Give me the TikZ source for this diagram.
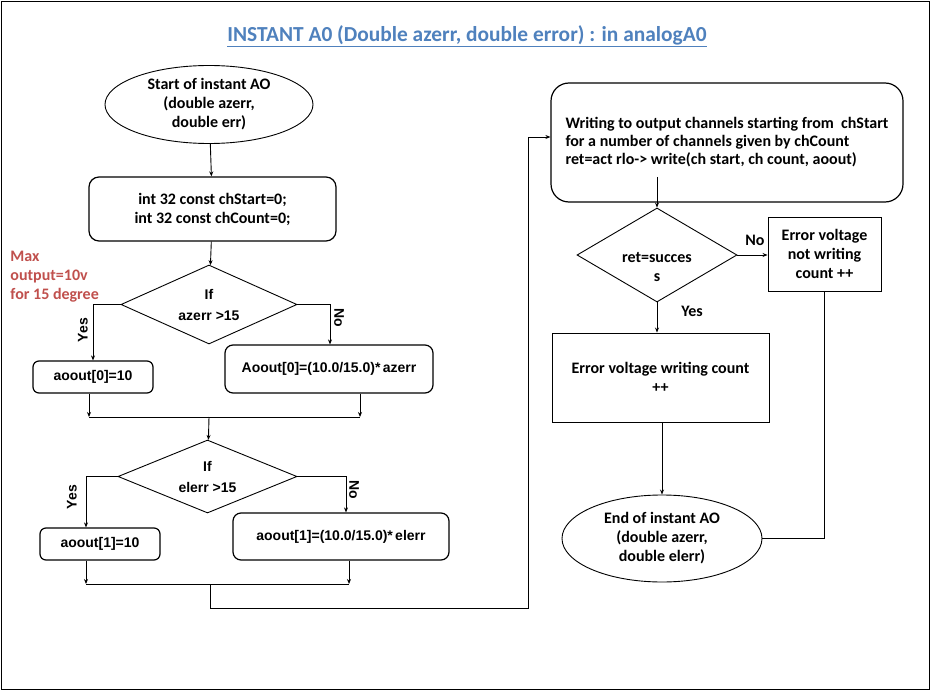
\documentclass[tikz,border=0pt]{standalone}
\usepackage{fontspec}
\setmainfont{Carlito}
\newfontfamily\arialf{Liberation Sans}
\usetikzlibrary{shapes.geometric,arrows.meta}
\definecolor{titleblue}{RGB}{79,129,189}
\definecolor{notered}{RGB}{192,80,77}
\begin{document}
\begin{tikzpicture}[x=1pt,y=-1pt,line width=0.9pt,
  cal/.style={font=\fontsize{16}{19}\selectfont\bfseries},
  ari/.style={font=\arialf\fontsize{14}{21}\selectfont\bfseries},
  arr/.style={-{Stealth[length=5pt,width=4pt]}},
  shapebox/.style={draw,line width=0.9pt,inner sep=0pt,align=center},
  rbox/.style={shapebox,line width=1.2pt,rounded corners=#1},
  rbox/.default=7pt,
  dia/.style={shapebox,diamond,aspect=2.2}
]
\useasboundingbox (0,0) rectangle (930,690);
\draw[line width=0.8pt] (1,1) rectangle (929,689);

\node[font=\fontsize{21.4}{24}\selectfont\bfseries,text=titleblue] (title) at (467,36.5)
  {\underline{INSTANT A0 (Double azerr, double error) : in analogA0}};

\node[text=notered,align=left,anchor=north west,inner sep=0pt,font=\fontsize{16}{19}\selectfont\bfseries] (note) at (10,251)
  {Max\\output=10v\\for 15 degree};

% left column
\node[shapebox,ellipse,minimum width=208pt,minimum height=78pt,cal] (start) at (209,104.5)
  {Start of instant AO\\(double azerr,\\double err)};
\node[rbox=10pt,minimum width=247pt,minimum height=64pt,cal] (b1) at (212.5,209)
  {int 32 const chStart=0;\\int 32 const chCount=0;};
\node[dia,minimum width=176pt,minimum height=79pt,ari] (d1) at (209,304.5)
  {If\\azerr >15};
\node[rbox=6pt,minimum width=120pt,minimum height=32pt,ari] (y1) at (93,377)
  {aoout[0]=10};
\node[rbox=8pt,minimum width=208pt,minimum height=48pt,ari] (n1) at (329,369)
  {Aoout[0]=(10.0/15.0)*\,azerr};
\node[dia,minimum width=179pt,minimum height=73pt,ari] (d2) at (207.5,476.5)
  {If\\elerr >15};
\node[rbox=6pt,minimum width=120pt,minimum height=32pt,ari] (y2) at (100,544)
  {aoout[1]=10};
\node[rbox=8pt,minimum width=216pt,minimum height=47pt,ari] (n2) at (341,536.5)
  {aoout[1]=(10.0/15.0)*\,elerr};

\node[ari,rotate=90] (yes1) at (83,330) {Yes};
\node[ari,rotate=-90] (no1) at (339,318) {No};
\node[ari,rotate=90] (yes2) at (72,497) {Yes};
\node[ari,rotate=-90] (no2) at (354,490) {No};

\coordinate (m1L) at (89,417);
\coordinate (m1R) at (360,417);
\coordinate (m1) at (209,417);
\coordinate (yx1) at (93,0);
\coordinate (nx1) at (330,0);
\coordinate (m2L) at (86,584);
\coordinate (m2R) at (349,584);
\coordinate (m2) at (210,584);
\coordinate (yx2) at (86,0);
\coordinate (nx2) at (346,0);
\coordinate (lp) at (528,137);

\draw[arr] (start) -- (b1);
\draw[arr] (b1) -- (d1);
\draw[arr] (d1.west) -| (y1.north -| yx1);
\draw[arr] (d1.east) -| (n1.north -| nx1);
\draw[arr] (y1.south -| m1L) -- (m1L);
\draw[arr] (n1.south -| m1R) -- (m1R);
\draw (m1L) -- (m1R);
\draw[arr] (m1) -- (d2);
\draw[arr] (d2.west) -| (y2.north -| yx2);
\draw[arr] (d2.east) -| (n2.north -| nx2);
\draw[arr] (y2.south -| m2L) -- (m2L);
\draw[arr] (n2.south -| m2R) -- (m2R);
\draw (m2L) -- (m2R);

% right column
\node[rbox=18pt,minimum width=352pt,minimum height=119pt,align=left,
  font=\fontsize{16}{18}\selectfont\bfseries] (bb) at (727,142.5)
  {Writing to output channels starting from\ \ chStart\\for a number of channels given by chCount\\ret=act rlo-> write(ch start, ch count, aoout)};
\node[dia,minimum width=160pt,minimum height=94pt] (d3) at (657,255) {};
\node[align=center,font=\fontsize{16}{19}\selectfont\bfseries] (d3t) at (657,267) {ret=succes\\s};
\node[shapebox,minimum width=113pt,minimum height=74pt,cal] (e1) at (824.5,254)
  {Error voltage\\not writing\\count ++};
\node[shapebox,minimum width=217pt,minimum height=89pt,cal] (e2) at (660.5,377.5)
  {Error voltage writing count\\++};
\node[shapebox,ellipse,minimum width=200pt,minimum height=87pt,cal] (endn) at (662,538.5)
  {End of instant AO\\(double azerr,\\double elerr)};
\node[cal] (no3) at (755,240) {No};
\node[cal] (yes3) at (692,311) {Yes};

\coordinate (bbo) at (657,177);
\draw[arr] (m2) -- ++(0,24) -| (lp) -- (bb.west |- lp);
\draw[arr] (bbo) -- (d3.north);
\draw[arr] (d3.east) -- (e1.west |- d3.east);
\draw[arr] (d3.south) -- (d3.south |- e2.north);
\draw[arr] (e2.south -| endn.north) -- (endn.north);
\draw (e1.south) |- (endn.east);
\end{tikzpicture}
\end{document}
